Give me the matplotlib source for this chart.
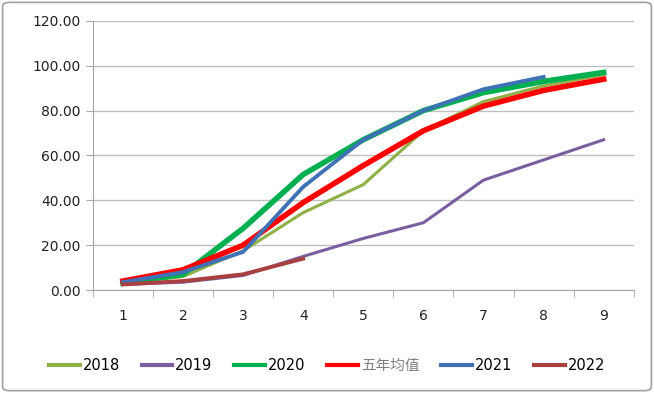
import matplotlib
matplotlib.use("Agg")
from matplotlib import pyplot as plt
from matplotlib.patches import FancyBboxPatch

plt.rcParams['font.family'] = ['DejaVu Sans', 'Noto Sans CJK SC']

months = [1, 2, 3, 4, 5, 6, 7, 8, 9]

y2018 = [3.0, 6.0, 17.5, 34.5, 47.0, 71.0, 84.0, 91.0, 96.0]
y2019 = [2.5, 3.5, 6.5, 15.0, 23.0, 30.0, 49.0, 58.0, 67.0]
y2020 = [3.0, 7.0, 27.5, 51.5, 67.0, 80.0, 88.0, 93.0, 97.0]
avg5 = [4.0, 9.0, 20.0, 39.0, 55.5, 71.0, 82.0, 89.0, 94.0]
y2021 = [3.5, 8.0, 17.0, 46.0, 67.0, 80.0, 89.5, 95.0]
y2022 = [2.5, 4.0, 7.0, 14.0]

fig = plt.figure(figsize=(6.54, 3.93), dpi=100)
ax = fig.add_axes([0.142, 0.262, 0.827, 0.685])

ax.plot(months, y2018, color='#8FB047', lw=2.2, label='2018')
ax.plot(months, y2019, color='#7A5FA0', lw=2.2, label='2019')
ax.plot(months, y2020, color='#00B050', lw=4.0, label='2020')
ax.plot(months, avg5, color='#FF0000', lw=4.0, label='五年均值')
ax.plot(months[:len(y2021)], y2021, color='#3F72B5', lw=2.8, label='2021')
ax.plot(months[:len(y2022)], y2022, color='#A8403F', lw=2.8, label='2022')

ax.set_xlim(0.5, 9.5)
ax.set_ylim(0, 120)
ax.set_yticks(range(0, 121, 20))
ax.set_yticklabels(['%.2f' % v for v in range(0, 121, 20)])
ax.set_xticks(months)
ax.set_xticks([m + 0.5 for m in range(0, 10)], minor=True)
ax.tick_params(axis='x', which='major', length=0, pad=14)
ax.tick_params(axis='x', which='minor', length=5, color='#A6A6A6')
ax.tick_params(axis='y', length=5, color='#A6A6A6', pad=4)
ax.tick_params(labelsize=10, labelcolor='#222222')

ax.grid(axis='y', color='#BFBFBF', lw=1)
ax.set_axisbelow(True)
for s in ['top', 'right']:
    ax.spines[s].set_visible(False)
for s in ['left', 'bottom']:
    ax.spines[s].set_color('#A6A6A6')

leg = fig.legend(loc='center', bbox_to_anchor=(0.5, 0.07), ncol=6, frameon=False,
                 fontsize=10.5, handlelength=2.1, handletextpad=0.2, columnspacing=1.5)
for line in leg.get_lines():
    line.set_linewidth(3)
leg.get_texts()[3].set_color('#808080')

fig.patches.append(FancyBboxPatch((0.004, 0.006), 0.992, 0.988,
                                  boxstyle='round,pad=0,rounding_size=0.01',
                                  transform=fig.transFigure, fill=False,
                                  edgecolor='#A0A0A0', lw=1.2))

fig.savefig('out.png', dpi=100)
